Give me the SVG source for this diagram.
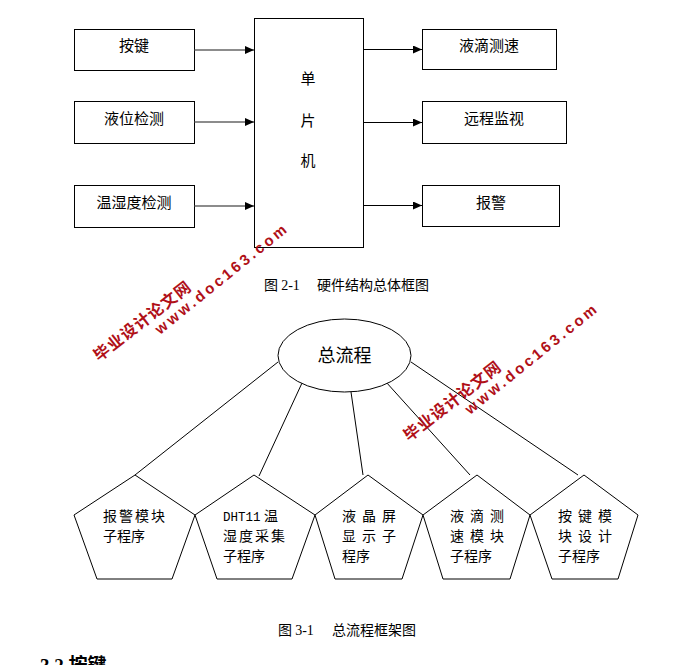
<svg xmlns="http://www.w3.org/2000/svg" width="697" height="665" viewBox="0 0 697 665">
<style>
.box{fill:#fff;stroke:#000;stroke-width:1}
.t{font-family:"Noto Sans CJK SC","Liberation Sans",sans-serif;font-size:15px;fill:#000;text-anchor:middle}
.p{font-family:"Noto Sans CJK SC","Liberation Sans",sans-serif;font-size:14px;fill:#000}
.cap{font-family:"Noto Sans CJK SC","Liberation Serif",serif;font-size:14px;fill:#000}
.ser{font-family:"Liberation Serif",serif}
.ln{stroke:#000;stroke-width:1;fill:none}
.lg{stroke:#666;stroke-width:1.5;fill:none}
.wm{font-family:"Liberation Sans","Noto Sans CJK SC",sans-serif;font-weight:bold;fill:#b01018}
</style>
<defs>
<marker id="ah" markerWidth="9" markerHeight="8" refX="9" refY="4" orient="auto" markerUnits="userSpaceOnUse">
<path d="M0,0 L9,4 L0,8 Z" fill="#000"/>
</marker>
</defs>
<rect width="697" height="665" fill="#fff"/>

<g id="n-anjian"><rect class="box" x="74.5" y="29.5" width="120" height="41"/><text class="t" x="134" y="50.5">按键</text></g>
<g id="n-yewei"><rect class="box" x="74.5" y="101.5" width="120" height="42"/><text class="t" x="134" y="123.5">液位检测</text></g>
<g id="n-wenshidu"><rect class="box" x="74.5" y="185.5" width="120" height="42"/><text class="t" x="134" y="207.5">温湿度检测</text></g>
<g id="n-mcu"><rect class="box" x="254.5" y="18.5" width="109" height="229"/>
<text class="t" x="308" y="84">单</text><text class="t" x="308" y="126">片</text><text class="t" x="308" y="166">机</text></g>
<g id="n-yedi"><rect class="box" x="422.5" y="29.5" width="134" height="40"/><text class="t" x="489" y="50.5">液滴测速</text></g>
<g id="n-yuancheng"><rect class="box" x="422.5" y="101.5" width="144" height="42"/><text class="t" x="494" y="123.5">远程监视</text></g>
<g id="n-baojing"><rect class="box" x="422.5" y="185.5" width="137" height="41"/><text class="t" x="491" y="207.5">报警</text></g>

<g id="connectors">
<line class="lg" x1="194.5" y1="50" x2="254" y2="50" marker-end="url(#ah)"/>
<line class="lg" x1="194.5" y1="122" x2="254" y2="122" marker-end="url(#ah)"/>
<line class="lg" x1="194.5" y1="206" x2="254" y2="206" marker-end="url(#ah)"/>
<line class="ln" x1="363.5" y1="49.5" x2="422" y2="49.5" marker-end="url(#ah)"/>
<line class="ln" x1="363.5" y1="122.5" x2="422" y2="122.5" marker-end="url(#ah)"/>
<line class="ln" x1="363.5" y1="205.5" x2="422" y2="205.5" marker-end="url(#ah)"/>
<line class="ln" x1="278" y1="362" x2="135" y2="475"/>
<line class="ln" x1="302" y1="383" x2="259" y2="476"/>
<line class="ln" x1="351" y1="392" x2="363" y2="475"/>
<line class="ln" x1="386" y1="382" x2="470" y2="475"/>
<line class="ln" x1="411" y1="362" x2="578" y2="475"/>
</g>

<text class="cap" x="264" y="290">图 <tspan class="ser">2-1</tspan><tspan x="317">硬件结构总体框图</tspan></text>

<g id="n-zong"><ellipse cx="344.5" cy="355.5" rx="66.5" ry="36.5" fill="#fff" stroke="#000"/>
<text class="t" x="344.5" y="362" style="font-size:18px">总流程</text></g>

<g id="p1"><polygon class="box" points="135,475 195,515 172,579 97,579 74,515"/>
<text class="p" x="103" y="521" letter-spacing="2">报警模块</text><text class="p" x="103" y="541">子程序</text></g>
<g id="p2"><polygon class="box" points="254,475 315,515 292,579 217,579 195,515"/>
<text class="p" x="223" y="521"><tspan style="font-family:'Liberation Mono',monospace;font-size:12.5px">DHT11</tspan></text><text class="p" x="264" y="521">温</text><text class="p" x="223" y="541" letter-spacing="2">湿度采集</text><text class="p" x="223" y="561">子程序</text></g>
<g id="p3"><polygon class="box" points="368,475 423,515 402,579 335,579 315,515"/>
<text class="p" x="342" y="521" letter-spacing="6">液晶屏</text><text class="p" x="342" y="541" letter-spacing="6">显示子</text><text class="p" x="342" y="561">程序</text></g>
<g id="p4"><polygon class="box" points="477,475 530,515 510,579 443,579 423,515"/>
<text class="p" x="450" y="521" letter-spacing="6">液滴测</text><text class="p" x="450" y="541" letter-spacing="6">速模块</text><text class="p" x="450" y="561">子程序</text></g>
<g id="p5"><polygon class="box" points="584,475 638,515 618,579 552,579 530,515"/>
<text class="p" x="558" y="521" letter-spacing="6">按键模</text><text class="p" x="558" y="541" letter-spacing="6">块设计</text><text class="p" x="558" y="561">子程序</text></g>

<text class="cap" x="278" y="635">图 <tspan class="ser">3-1</tspan><tspan x="332">总流程框架图</tspan></text>

<text x="40" y="672" style="font-family:'Liberation Serif','Noto Sans CJK SC',serif;font-size:19px;font-weight:bold">3.2 按键</text>

<g id="watermarks">
<text class="wm" transform="translate(99,362) rotate(-38)" style="font-size:16px" letter-spacing="1">毕业设计论文网</text>
<text class="wm" transform="translate(160,335) rotate(-39)" style="font-size:15px" letter-spacing="3">www.doc163.com</text>
<text class="wm" transform="translate(409,442) rotate(-38)" style="font-size:16px" letter-spacing="1">毕业设计论文网</text>
<text class="wm" transform="translate(470,415) rotate(-39)" style="font-size:15px" letter-spacing="3">www.doc163.com</text>
</g>
</svg>
